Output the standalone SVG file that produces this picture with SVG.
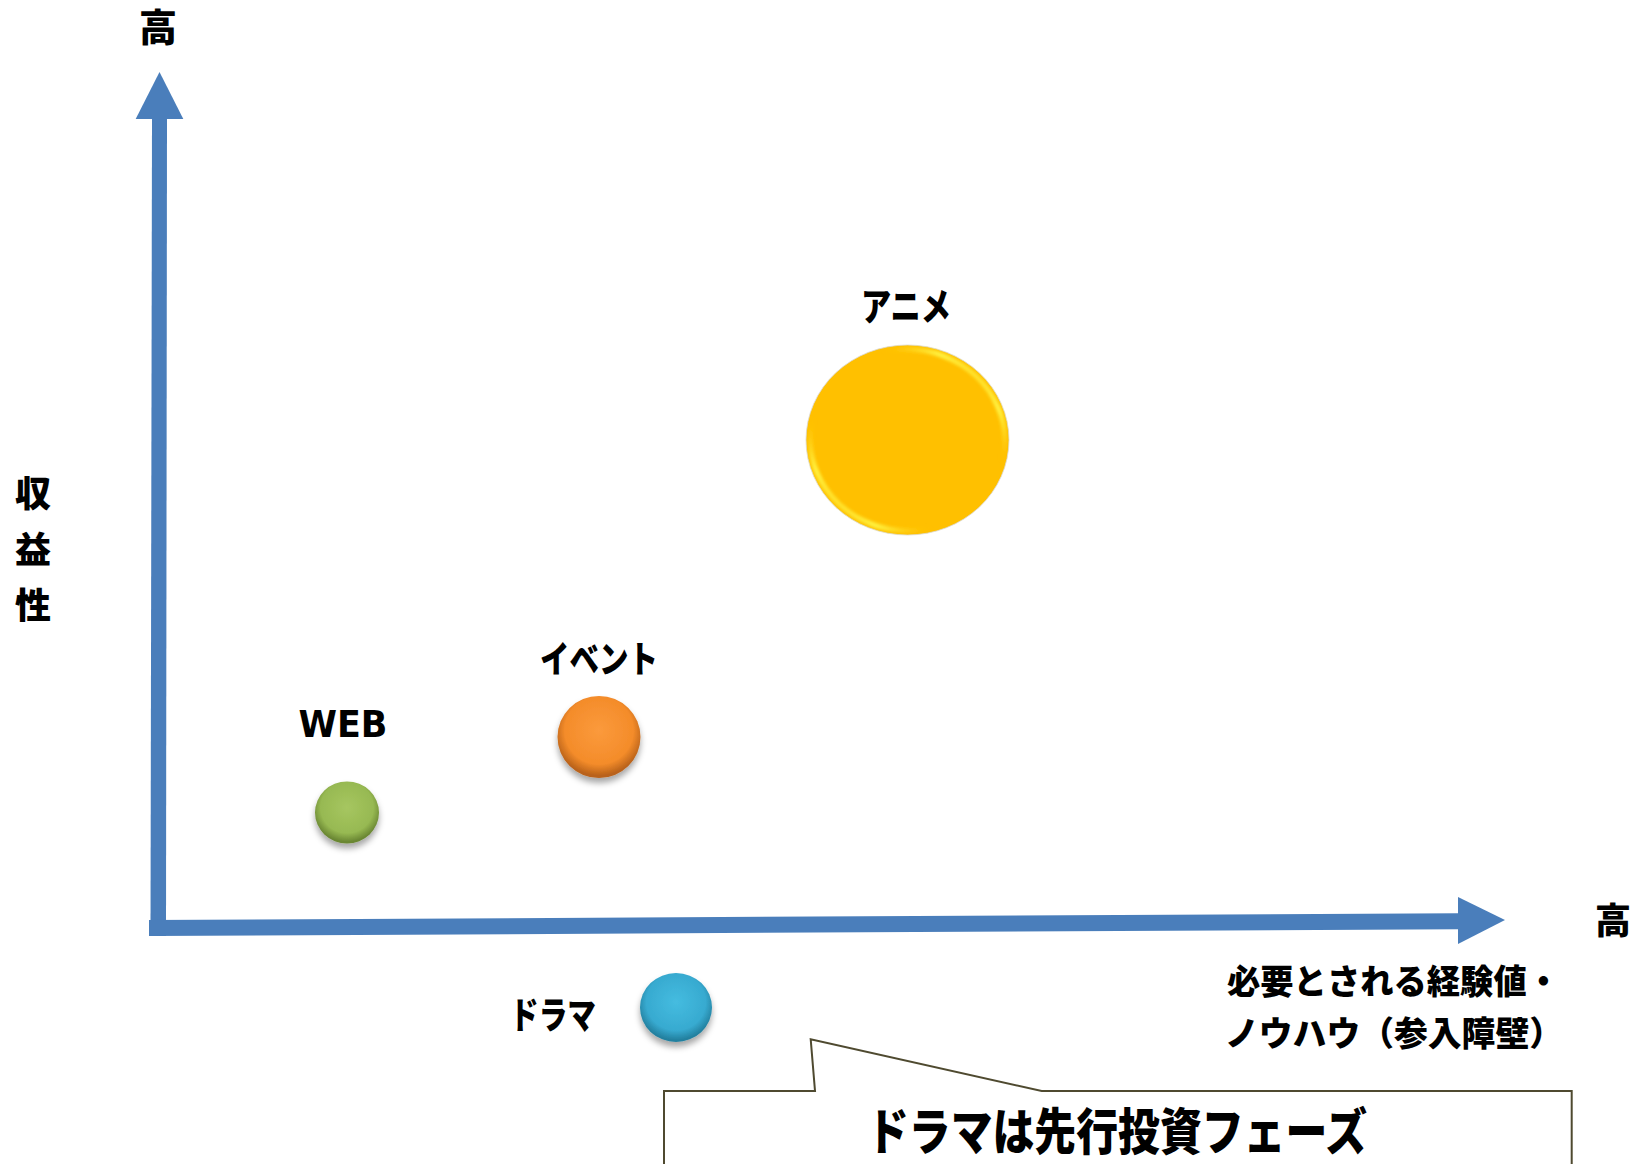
<svg xmlns="http://www.w3.org/2000/svg" width="1647" height="1164" viewBox="0 0 1647 1164">
  <style>
    .jp { font-family: "Noto Sans CJK JP", "Noto Sans", sans-serif; font-weight: 900; fill: #000; }
    .lat { font-family: "DejaVu Sans", "Noto Sans", sans-serif; font-weight: bold; fill: #000; }
    .axis { fill: #4A7EBB; }
  </style>
  <defs>
    <filter id="shadow" x="-40%" y="-40%" width="180%" height="190%">
      <feDropShadow dx="0" dy="5" stdDeviation="3" flood-color="#000" flood-opacity="0.35"/>
    </filter>
    <radialGradient id="gOrange" cx="0.5" cy="0.42" r="0.55">
      <stop offset="0" stop-color="#FB9A3C"/>
      <stop offset="0.75" stop-color="#F48C2A"/>
      <stop offset="1" stop-color="#B9621A"/>
    </radialGradient>
    <radialGradient id="gGreen" cx="0.5" cy="0.42" r="0.55">
      <stop offset="0" stop-color="#A6C660"/>
      <stop offset="0.75" stop-color="#97B952"/>
      <stop offset="1" stop-color="#6A8733"/>
    </radialGradient>
    <radialGradient id="gBlue" cx="0.5" cy="0.42" r="0.55">
      <stop offset="0" stop-color="#45BCE0"/>
      <stop offset="0.75" stop-color="#37AAD0"/>
      <stop offset="1" stop-color="#23809F"/>
    </radialGradient>
    <linearGradient id="gRim" x1="0" y1="1" x2="1" y2="0">
      <stop offset="0" stop-color="#FFC000" stop-opacity="0"/>
      <stop offset="0.18" stop-color="#FFF240"/>
      <stop offset="0.32" stop-color="#FFC000" stop-opacity="0"/>
      <stop offset="0.68" stop-color="#FFC000" stop-opacity="0"/>
      <stop offset="0.82" stop-color="#FFF240"/>
      <stop offset="1" stop-color="#FFC000" stop-opacity="0"/>
    </linearGradient>
    <filter id="blur1"><feGaussianBlur stdDeviation="1.5"/></filter>
  </defs>
  <rect width="1647" height="1164" fill="#FFFFFF"/>

  <g id="connectors">
    <polygon class="axis" points="152,119 167,119 166,936 150.5,936"/>
    <polygon class="axis" points="159.5,72 183.3,119 135.7,119"/>
    <polygon class="axis" points="149,920 1458,913.3 1458,929.3 149,936"/>
    <polygon class="axis" points="1458,897 1505,920 1458,944"/>
  </g>

  <g id="label-y-high"><text class="jp" x="158" y="41" font-size="38" text-anchor="middle">高</text></g>
  <g id="label-x-high"><text class="jp" x="1613" y="934" font-size="36" text-anchor="middle">高</text></g>
  <g id="label-y-axis">
    <text class="jp" x="33" y="507" font-size="36" text-anchor="middle">収</text>
    <text class="jp" x="33" y="563" font-size="36" text-anchor="middle">益</text>
    <text class="jp" x="33" y="619" font-size="36" text-anchor="middle">性</text>
  </g>
  <g id="label-x-axis">
    <text class="jp" x="1227" y="994" font-size="34" textLength="333" lengthAdjust="spacingAndGlyphs">必要とされる経験値・</text>
    <text class="jp" x="1225" y="1046" font-size="34" textLength="338" lengthAdjust="spacingAndGlyphs">ノウハウ（参入障壁）</text>
  </g>

  <g id="node-anime">
    <text class="jp" x="906" y="320" font-size="38" text-anchor="middle" textLength="90" lengthAdjust="spacingAndGlyphs">アニメ</text>
    <ellipse cx="907.5" cy="440" rx="101.5" ry="95" fill="#FFC000" stroke="#D9D9D9" stroke-width="0.8"/>
    <ellipse cx="907.5" cy="440" rx="97" ry="90.5" fill="none" stroke="url(#gRim)" stroke-width="5" filter="url(#blur1)"/>
  </g>

  <g id="node-event">
    <text class="jp" x="599" y="673" font-size="37" text-anchor="middle" textLength="118" lengthAdjust="spacingAndGlyphs">イベント</text>
    <ellipse cx="599" cy="737" rx="41.5" ry="41" fill="url(#gOrange)" filter="url(#shadow)"/>
  </g>

  <g id="node-web">
    <text class="lat" x="343" y="737" font-size="37" text-anchor="middle" textLength="89" lengthAdjust="spacingAndGlyphs">WEB</text>
    <ellipse cx="347" cy="812.5" rx="32" ry="31" fill="url(#gGreen)" filter="url(#shadow)"/>
  </g>

  <g id="node-drama">
    <text class="jp" x="553" y="1029" font-size="37" text-anchor="middle" textLength="86" lengthAdjust="spacingAndGlyphs">ドラマ</text>
    <ellipse cx="676" cy="1007.5" rx="36" ry="34.5" fill="url(#gBlue)" filter="url(#shadow)"/>
  </g>

  <g id="callout">
    <path d="M664,1170 L664,1091 L815,1091 L810.7,1039.3 L1041.7,1091 L1571.7,1091 L1571.7,1170" fill="#FFFFFF" stroke="#4F4A30" stroke-width="2"/>
    <text class="jp" x="1117" y="1150" font-size="50" text-anchor="middle" textLength="500" lengthAdjust="spacingAndGlyphs">ドラマは先行投資フェーズ</text>
  </g>
</svg>
